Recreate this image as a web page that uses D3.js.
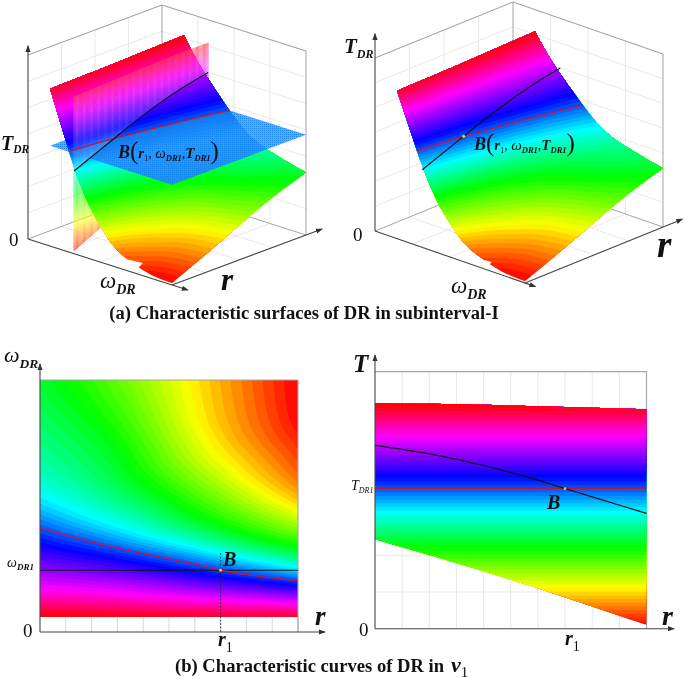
<!DOCTYPE html>
<html>
<head>
<meta charset="utf-8">
<title>Characteristic surfaces and curves of DR</title>
<style>
  html, body { margin: 0; padding: 0; background: #fff; }
  svg { display: block; filter: blur(0.35px); }
  text { font-family: "Liberation Serif", serif; fill: #111; }
</style>
</head>
<body>
<script src="https://cdnjs.cloudflare.com/ajax/libs/d3/7.8.5/d3.min.js"></script>
<script>
// all values are normalised axis fractions
var rValues = [0, 0.2, 0.4, 0.6, 0.8, 1];
var omegaValues = [0.06, 0.138, 0.217, 0.295, 0.373, 0.452, 0.53, 0.608, 0.687, 0.765, 0.843, 0.922, 1];

// torque over omegaValues, one list per entry of rValues
var torqueR0 = [0.875, 0.78, 0.704, 0.638, 0.574, 0.512, 0.458, 0.423, 0.4, 0.384, 0.368, 0.353, 0.34];
var torqueR1 = [0.87, 0.773, 0.689, 0.609, 0.527, 0.449, 0.416, 0.384, 0.366, 0.349, 0.325, 0.305, 0.29];
var torqueR2 = [0.865, 0.757, 0.661, 0.565, 0.461, 0.406, 0.354, 0.311, 0.293, 0.275, 0.255, 0.24, 0.225];
var torqueR3 = [0.86, 0.738, 0.618, 0.508, 0.408, 0.321, 0.279, 0.239, 0.195, 0.175, 0.157, 0.152, 0.148];
var torqueR4 = [0.858, 0.722, 0.571, 0.45, 0.322, 0.261, 0.204, 0.153, 0.126, 0.098, 0.088, 0.083, 0.08];
var torqueR5 = [0.855, 0.691, 0.523, 0.378, 0.268, 0.191, 0.119, 0.077, 0.055, 0.033, 0.016, 0.012, 0.01];
var torqueColumns = [torqueR0, torqueR1, torqueR2, torqueR3, torqueR4, torqueR5];

// colour bar of the surfaces
var colorDomain = [0.015, 0.16, 0.315, 0.455, 0.59, 0.747, 0.875];
var colorStops = ["#ff0000", "#ffff00", "#00ff00", "#00ffff", "#0000ff", "#ff00ff", "#ff0000"];
var planeColor = "#1480f5";

// point B
var r1 = 0.7, omega1 = 0.245, torque1 = 0.545;

// curve at omega = omega1 (black)
var sectionR = [0, 0.2, 0.4, 0.6, 0.7, 0.8, 1];
var sectionTorque = [0.713, 0.68, 0.635, 0.578, 0.545, 0.513, 0.449];
// curve at T = torque1 (red)
var contourR = [0, 0.2, 0.4, 0.6, 0.7, 0.8, 1];
var contourOmega = [0.413, 0.358, 0.311, 0.269, 0.245, 0.228, 0.203];
// edges of the band in the T-r view
var edgeR = [0, 0.2, 0.4, 0.6, 0.8, 1];
var edgeUpper = [0.877, 0.875, 0.871, 0.866, 0.86, 0.854];
var edgeLower = [0.348, 0.287, 0.224, 0.157, 0.086, 0.014];
// small step in the low edge of the surface, [r, omega]
var notchLeft = [[1, 0.66], [0.965, 0.74], [1.02, 0.74]];
var notchRight = [[1, 0.7], [0.985, 0.74], [1.02, 0.74]];

var width = 685, height = 679;
var svg = d3.select("body").append("svg").attr("width", width).attr("height", height);
var defs = svg.append("defs");

var arrow = defs.append("marker").attr("id", "arrow").attr("viewBox", "0 0 8 6")
    .attr("refX", 7).attr("refY", 3).attr("markerWidth", 7).attr("markerHeight", 5.5)
    .attr("markerUnits", "userSpaceOnUse").attr("orient", "auto");
arrow.append("path").attr("d", "M0,0L8,3L0,6Z").attr("fill", "#333");

// colours
var color = d3.scaleLinear().domain(colorDomain).range(colorStops).clamp(true);
var bandCount = 60;
var bandStep = (0.875 - 0.015) / bandCount;
var levels = d3.range(bandCount).map(function(k) { return 0.015 + k * bandStep; });
function levelColor(t) { return color(t + bandStep / 2); }

// smooth surface through the table
var columnFns = torqueColumns.map(function(c) { return d3.interpolateBasis(c); });
var omegaUnit = d3.scaleLinear().domain([0.06, 1]).range([0, 1]);
function surfaceT(r, w) {
  var t = omegaUnit(w);
  return d3.interpolateBasis(columnFns.map(function(f) { return f(t); }))(r);
}

// sample on a fine grid and contour it
var nx = 130, ny = 150;
var gridR = d3.scaleLinear().domain([0.5, nx - 0.5]).range([0, 1]).clamp(true);
var gridW = d3.scaleLinear().domain([0.5, ny - 0.5]).range([0.06, 1]).clamp(true);
var gridValues = new Array(nx * ny);
for (var j = 0; j < ny; j++) {
  for (var i = 0; i < nx; i++) gridValues[i + j * nx] = surfaceT(gridR(i + 0.5), gridW(j + 0.5));
}
function lookupT(r, w) {
  var fx = Math.min(nx - 1.001, Math.max(0, gridR.invert(r) - 0.5));
  var fy = Math.min(ny - 1.001, Math.max(0, gridW.invert(w) - 0.5));
  var i0 = Math.floor(fx), j0 = Math.floor(fy), dx = fx - i0, dy = fy - j0;
  var a = gridValues[i0 + j0 * nx], b = gridValues[i0 + 1 + j0 * nx];
  var c = gridValues[i0 + (j0 + 1) * nx], d = gridValues[i0 + 1 + (j0 + 1) * nx];
  return (a * (1 - dx) + b * dx) * (1 - dy) + (c * (1 - dx) + d * dx) * dy;
}
var contourLevels = levels.slice();
contourLevels[0] = -1; // first band takes everything below it
var contours = d3.contours().size([nx, ny]).thresholds(contourLevels)(gridValues);

var linePath = d3.line();
function contourPath(contour, project) {
  var s = "";
  contour.coordinates.forEach(function(poly) {
    poly.forEach(function(ring) {
      s += linePath(ring.map(function(p) { return project(gridR(p[0]), gridW(p[1])); })) + "Z";
    });
  });
  return s;
}
function drawBands(g, project, minT) {
  contours.forEach(function(c, k) {
    if (levels[k] < minT) return;
    g.append("path").attr("d", contourPath(c, project))
      .attr("fill", levelColor(levels[k])).attr("fill-rule", "evenodd");
  });
}

// text helper, parts are [text, size, baseline shift, style, dx]
function label(x, y, parts, anchor) {
  var t = svg.append("text").attr("x", x).attr("y", y).attr("text-anchor", anchor || "start");
  var shift = 0;
  parts.forEach(function(p) {
    var span = t.append("tspan").text(p[0]).attr("font-size", p[1])
      .attr("dy", (p[2] || 0) - shift);
    shift = p[2] || 0;
    if (p[4]) span.attr("dx", p[4]);
    var st = p[3] || "bi";
    span.attr("font-weight", st.indexOf("b") >= 0 ? "bold" : "normal")
        .attr("font-style", st.indexOf("i") >= 0 ? "italic" : "normal");
  });
  return t;
}

// ---------- 3D boxes ----------
function makeBox(L, F, R, tTop, omegaStart) {
  var wx = d3.scaleLinear().domain([0, 1]).range([0, F[0] - L[0]]);
  var wy = d3.scaleLinear().domain([0, 1]).range([0, F[1] - L[1]]);
  // r runs from the right corner towards the front corner
  var rx = d3.scaleLinear().domain([1, 0]).range([0, R[0] - F[0]]);
  var ry = d3.scaleLinear().domain([1, 0]).range([0, R[1] - F[1]]);
  var ty = d3.scaleLinear().domain([0, 1]).range([0, tTop]);
  var w3 = d3.scaleLinear().domain([0.06, 1]).range([omegaStart, 1]);
  function raw(u, r, t) { return [L[0] + wx(u) + rx(r), L[1] + wy(u) + ry(r) - ty(t)]; }
  return {
    raw: raw,
    at: function(r, w, t) { return raw(w3(w), r, t); },
    surf: function(r, w) { return raw(w3(w), r, lookupT(r, w)); }
  };
}

function drawFrame(g, box) {
  var grid = g.append("g").attr("stroke", "#e3e3e3").attr("stroke-width", 0.8).attr("fill", "none");
  function seg(s, a, b) { s.append("line").attr("x1", a[0]).attr("y1", a[1]).attr("x2", b[0]).attr("y2", b[1]); }
  d3.range(1, 8).forEach(function(k) {
    var t = k / 7;
    seg(grid, box.raw(0, 1, t), box.raw(0, 0, t));
    seg(grid, box.raw(0, 0, t), box.raw(1, 0, t));
  });
  d3.range(1, 4).forEach(function(k) {
    var f = k / 4;
    seg(grid, box.raw(0, 1 - f, 0), box.raw(0, 1 - f, 1));
    seg(grid, box.raw(f, 0, 0), box.raw(f, 0, 1));
    seg(grid, box.raw(f, 1, 0), box.raw(f, 0, 0));
    seg(grid, box.raw(0, 1 - f, 0), box.raw(1, 1 - f, 0));
  });
  var edge = g.append("g").attr("stroke", "#9a9a9a").attr("stroke-width", 0.9).attr("fill", "none");
  seg(edge, box.raw(0, 1, 1), box.raw(0, 0, 1));
  seg(edge, box.raw(0, 0, 1), box.raw(1, 0, 1));
  seg(edge, box.raw(1, 0, 1), box.raw(1, 0, 0));
  seg(edge, box.raw(0, 0, 1), box.raw(0, 0, 0));
  seg(edge, box.raw(0, 0, 0), box.raw(0, 1, 0));
  seg(edge, box.raw(0, 0, 0), box.raw(1, 0, 0));
}

function drawAxes3d(g, box, tEnd, wEnd, rEnd) {
  var ax = g.append("g").attr("stroke", "#444").attr("stroke-width", 1.1).attr("fill", "none");
  function arrowLine(a, b) {
    ax.append("line").attr("x1", a[0]).attr("y1", a[1]).attr("x2", b[0]).attr("y2", b[1])
      .attr("marker-end", "url(#arrow)");
  }
  arrowLine(box.raw(0, 1, 0), box.raw(0, 1, tEnd));
  arrowLine(box.raw(0, 1, 0), box.raw(wEnd, 1, 0));
  arrowLine(box.raw(1, 1, 0), box.raw(1, rEnd, 0));
}

var curveLine = d3.line().curve(d3.curveCatmullRom);
function drawCurves3d(g, box) {
  g.append("path").attr("fill", "none").attr("stroke", "#d2122e").attr("stroke-width", 1.3)
    .attr("d", curveLine(contourR.map(function(r, i) { return box.at(r, contourOmega[i], torque1); })));
  g.append("path").attr("fill", "none").attr("stroke", "#111").attr("stroke-width", 1.2)
    .attr("d", curveLine(sectionR.map(function(r, i) { return box.at(r, omega1, sectionTorque[i]); })));
}

function drawNotch(g, box, notch) {
  g.append("path").attr("fill", "#fff").attr("d", linePath(notch.map(function(p) {
    return box.surf(Math.min(p[0], 1), p[1]).map(function(v, k) {
      // the outer points sit a little past the edge
      return p[0] > 1 ? v + (k === 0 ? -1.5 : 2.5) : v;
    });
  })) + "Z");
}

// vertical plane omega = omega1, drawn as thin dotted columns
var upperFn = d3.scaleLinear().domain(edgeR).range(edgeUpper);
var lowerFn = d3.scaleLinear().domain(edgeR).range(edgeLower);
var sectionFn = d3.scaleLinear().domain(sectionR).range(sectionTorque);
function drawVerticalPlane(g, box, above) {
  var columns = d3.range(0, 1.0001, 1 / 115);
  levels.forEach(function(t) {
    var t2 = t + bandStep, s = "";
    columns.forEach(function(r) {
      var lo = above ? sectionFn(r) : lowerFn(r);
      var hi = above ? upperFn(r) : sectionFn(r);
      var a = Math.max(t, lo), b = Math.min(t2, hi);
      if (b <= a) return;
      s += linePath([box.at(r, omega1, a), box.at(r, omega1, b)]);
    });
    if (!s) return;
    g.append("path").attr("d", s).attr("fill", "none").attr("stroke-width", 0.8)
      .attr("stroke", d3.interpolateRgb(levelColor(t), "#fff")(above ? 0.28 : 0.15));
  });
}

// ---------- panel (a) left ----------
var boxA = makeBox([28, 239], [172, 285], [306, 235], 184, 0.153);
var gA = svg.append("g");
drawFrame(gA, boxA);
drawVerticalPlane(gA, boxA, false);
drawBands(gA, boxA.surf, -2);
drawNotch(gA, boxA, notchLeft);

// horizontal plane T = torque1
var dots = defs.append("pattern").attr("id", "dots").attr("width", 2).attr("height", 2)
    .attr("patternUnits", "userSpaceOnUse");
dots.append("rect").attr("width", 2).attr("height", 2).attr("fill", planeColor).attr("opacity", 0.68);
dots.append("rect").attr("width", 1).attr("height", 1).attr("fill", planeColor).attr("opacity", 0.85);
gA.append("path").attr("fill", "url(#dots)").attr("d", linePath([
  boxA.at(1, 0.06, torque1), boxA.at(0, 0.06, torque1), boxA.at(0, 1, torque1), boxA.at(1, 1, torque1)
]) + "Z");

drawBands(gA, boxA.surf, torque1);
drawVerticalPlane(gA, boxA, true);
drawCurves3d(gA, boxA);
drawAxes3d(gA, boxA, 1.05, 1.11, -0.12);

label(1, 150, [["T", 20], ["DR", 11.5, 3]]);
label(9, 246, [["0", 19, 0, "r"]]);
label(100, 288, [["\u03c9", 23, 0, "i"], ["DR", 14, 6]]);
label(221, 290, [["r", 31]]);
label(118, 158, [["B", 18], ["(", 25, 1, "r"], ["r", 15, 0], ["1", 8, 3, "r"], [", ", 14, 0, "r"],
  ["\u03c9", 15, 0, "i"], ["DR1", 8.5, 3], [",", 14, 0, "r"], ["T", 15, 0], ["DR1", 8.5, 3], [")", 25, 1, "r"]]);

// ---------- panel (a) right ----------
var boxB = makeBox([375, 231], [525, 283], [663, 227], 173, 0.147);
var gB = svg.append("g");
drawFrame(gB, boxB);
drawBands(gB, boxB.surf, -2);
drawNotch(gB, boxB, notchRight);
drawCurves3d(gB, boxB);
var pB = boxB.at(r1, omega1, torque1);
gB.append("circle").attr("cx", pB[0]).attr("cy", pB[1]).attr("r", 1.5).attr("fill", "#ffd400");
drawAxes3d(gB, boxB, 1.14, 1.07, -0.14);

label(344, 53, [["T", 21], ["DR", 12, 5]]);
label(353, 241, [["0", 19, 0, "r"]]);
label(451, 293, [["\u03c9", 23, 0, "i"], ["DR", 14, 6]]);
label(657, 257, [["r", 37]]);
label(474, 150, [["B", 18], ["(", 25, 1, "r"], ["r", 15, 0], ["1", 8, 3, "r"], [", ", 14, 0, "r"],
  ["\u03c9", 15, 0, "i"], ["DR1", 8.5, 3], [",", 14, 0, "r"], ["T", 15, 0], ["DR1", 8.5, 3], [")", 25, 1, "r"]]);

label(304, 319, [["(a) Characteristic surfaces of DR in subinterval-I", 18.6, 0, "b"]], "middle");

// ---------- panel (b) left ----------
var xL = d3.scaleLinear().domain([0, 1]).range([40, 298]);
var yL = d3.scaleLinear().domain([0, 1]).range([632, 380]);
var gC = svg.append("g");
drawBands(gC, function(r, w) { return [xL(r), yL(w)]; }, -2);
gC.selectAll("line.tick").data(d3.range(1, 11)).enter().append("line")
  .attr("x1", function(d) { return xL(d / 10); }).attr("x2", function(d) { return xL(d / 10); })
  .attr("y1", yL(0)).attr("y2", yL(0.06)).attr("stroke", "#ccc").attr("stroke-width", 0.8);
gC.append("path").attr("fill", "none").attr("stroke", "#a8a8a8").attr("stroke-width", 1.2)
  .attr("d", linePath([[xL(0), yL(1)], [xL(1), yL(1)], [xL(1), yL(0)]]));
gC.append("line").attr("x1", xL(r1)).attr("x2", xL(r1)).attr("y1", yL(0)).attr("y2", yL(omega1) - 18)
  .attr("stroke", "#222").attr("stroke-width", 0.8).attr("stroke-dasharray", "2 1.5");
gC.append("line").attr("x1", xL(0)).attr("x2", xL(1)).attr("y1", yL(omega1)).attr("y2", yL(omega1))
  .attr("stroke", "#111").attr("stroke-width", 1.1);
gC.append("path").attr("fill", "none").attr("stroke", "#d2122e").attr("stroke-width", 1.3)
  .attr("d", curveLine(contourR.map(function(r, i) { return [xL(r), yL(contourOmega[i])]; })));
gC.append("circle").attr("cx", xL(r1)).attr("cy", yL(omega1)).attr("r", 1.4).attr("fill", "#ffd400");
gC.append("line").attr("x1", xL(0)).attr("x2", 325).attr("y1", yL(0)).attr("y2", yL(0))
  .attr("stroke", "#444").attr("stroke-width", 1.1).attr("marker-end", "url(#arrow)");
gC.append("line").attr("x1", xL(0)).attr("x2", xL(0)).attr("y1", yL(0)).attr("y2", 364)
  .attr("stroke", "#444").attr("stroke-width", 1.1).attr("marker-end", "url(#arrow)");

label(4, 362, [["\u03c9", 22, 0, "i"], ["DR", 13.5, 6]]);
label(7, 567, [["\u03c9", 14, 0, "i"], ["DR1", 9, 3]]);
label(23, 637, [["0", 19, 0, "r"]]);
label(315, 625, [["r", 27]]);
label(218, 646, [["r", 20], ["1", 14, 6, "r"]]);
label(223, 566, [["B", 20]]);

// ---------- panel (b) right ----------
var xR = d3.scaleLinear().domain([0, 1]).range([375, 646.5]);
var yR = d3.scaleLinear().domain([0, 1]).range([628.7, 371.7]);
var gD = svg.append("g");
gD.selectAll("line.gx").data(d3.range(1, 10)).enter().append("line")
  .attr("x1", function(d) { return xR(d / 10); }).attr("x2", function(d) { return xR(d / 10); })
  .attr("y1", yR(0)).attr("y2", yR(1)).attr("stroke", "#e3e3e3").attr("stroke-width", 0.8);
gD.selectAll("line.gy").data(d3.range(1, 7)).enter().append("line")
  .attr("x1", xR(0)).attr("x2", xR(1))
  .attr("y1", function(d) { return yR(d / 7); }).attr("y2", function(d) { return yR(d / 7); })
  .attr("stroke", "#e3e3e3").attr("stroke-width", 0.8);
gD.append("path").attr("fill", "none").attr("stroke", "#a8a8a8").attr("stroke-width", 1.2)
  .attr("d", linePath([[xR(0), yR(1)], [xR(1), yR(1)], [xR(1), yR(0)]]));

var bandArea = d3.area().x(function(r) { return xR(r); })
  .y0(function(r, i) { return yR(edgeLower[i]); }).y1(function(r, i) { return yR(edgeUpper[i]); });
defs.append("clipPath").attr("id", "band").append("path").attr("d", bandArea(edgeR));
var bandG = gD.append("g").attr("clip-path", "url(#band)");
bandG.selectAll("rect").data(levels).enter().append("rect")
  .attr("x", xR(0)).attr("width", xR(1) - xR(0))
  .attr("y", yR(0.9))
  .attr("height", function(t) { return yR(t) - yR(0.9); })
  .attr("fill", function(t) { return levelColor(t); });

gD.append("line").attr("x1", xR(0)).attr("x2", xR(1)).attr("y1", yR(torque1)).attr("y2", yR(torque1))
  .attr("stroke", "#c21230").attr("stroke-width", 1.1);
gD.append("path").attr("fill", "none").attr("stroke", "#111").attr("stroke-width", 1.2)
  .attr("d", curveLine(sectionR.map(function(r, i) { return [xR(r), yR(sectionTorque[i])]; })));
gD.append("circle").attr("cx", xR(r1)).attr("cy", yR(torque1)).attr("r", 1.4).attr("fill", "#ffc000");
gD.append("line").attr("x1", xR(0)).attr("x2", 674).attr("y1", yR(0)).attr("y2", yR(0))
  .attr("stroke", "#444").attr("stroke-width", 1.1).attr("marker-end", "url(#arrow)");
gD.append("line").attr("x1", xR(0)).attr("x2", xR(0)).attr("y1", yR(0)).attr("y2", 355)
  .attr("stroke", "#444").attr("stroke-width", 1.1).attr("marker-end", "url(#arrow)");

label(353, 372, [["T", 25]]);
label(351, 490, [["T", 14, 0, "i"], ["DR1", 8, 3, "i"]]);
label(359, 636, [["0", 19, 0, "r"]]);
label(662, 625, [["r", 28]]);
label(565, 645, [["r", 20], ["1", 14, 6, "r"]]);
label(547, 509, [["B", 20]]);

label(175, 672, [["(b) Characteristic curves of DR in", 18.6, 0, "b"], ["v", 22, 0, "bi", 7], ["1", 15, 5, "r"]]);
</script>
</body>
</html>
